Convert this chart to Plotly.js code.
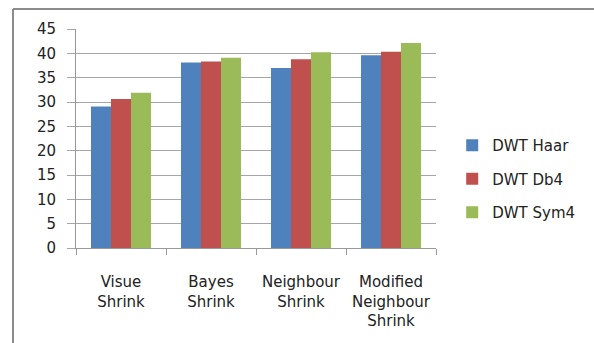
<!DOCTYPE html>
<html>
<head>
<meta charset="utf-8">
<script src="https://cdn.plot.ly/plotly-3.0.1.min.js"></script>
<style>html,body{margin:0;padding:0;background:#fff;}#chart{width:594px;height:343px;}</style>
</head>
<body>
<div id="chart"></div>
<script>
const categories = ["Visue<br>Shrink", "Bayes<br>Shrink", "Neighbour<br>Shrink", "Modified<br>Neighbour<br>Shrink"];
const seriesNames = ["DWT Haar", "DWT Db4", "DWT Sym4"];
const haar = [29.1, 38.1, 37.0, 39.6];
const db4 = [30.6, 38.3, 38.8, 40.3];
const sym4 = [31.9, 39.1, 40.2, 42.1];
const colors = ["#4F81BD", "#C0504D", "#9BBB59"];
const yTicks = [0, 5, 10, 15, 20, 25, 30, 35, 40, 45];

const values = [haar, db4, sym4];
const traces = values.map((v, i) => ({
  type: "bar",
  x: categories,
  y: v,
  name: seriesNames[i],
  legendgroup: "g" + i,
  marker: {color: colors[i]}
}));

const fam = "DejaVu Sans, Noto Sans, sans-serif";
const layout = {
  width: 594, height: 343,
  margin: {l: 76, r: 158, t: 29, b: 95},
  paper_bgcolor: "#fff", plot_bgcolor: "#fff",
  font: {family: fam, size: 14, color: "#222"},
  barmode: "group",
  bargap: 0.333,
  bargroupgap: 0,
  showlegend: true,
  legend: {
    x: 1.045, xanchor: "left", y: 0.315, yanchor: "middle",
    font: {family: fam, size: 15, color: "#222"},
    tracegroupgap: 11,
    traceorder: "grouped"
  },
  xaxis: {
    type: "category",
    tickson: "boundaries",
    ticks: "outside", ticklen: 6, tickcolor: "#999", tickwidth: 1,
    showline: true, linecolor: "#999", linewidth: 1,
    showgrid: false,
    ticklabelstandoff: 20,
    tickfont: {family: fam, size: 15, color: "#222"}
  },
  yaxis: {
    range: [0, 45],
    tickvals: yTicks,
    ticktext: yTicks.map(String),
    ticks: "outside", ticklen: 8, tickcolor: "#a6a6a6", tickwidth: 1,
    showline: true, linecolor: "#999", linewidth: 1,
    showgrid: true, gridcolor: "#a6a6a6", gridwidth: 1,
    zeroline: false,
    ticklabelstandoff: 8,
    tickfont: {family: fam, size: 15, color: "#222"}
  },
  shapes: [
    {type: "line", xref: "paper", yref: "paper", x0: (13 - 76) / 360, x1: (600 - 76) / 360, y0: (343 - 9 - 95) / 219, y1: (343 - 9 - 95) / 219, line: {color: "#8c8c8c", width: 2}},
    {type: "line", xref: "paper", yref: "paper", x0: (13 - 76) / 360, x1: (13 - 76) / 360, y0: (343 - 9 - 95) / 219, y1: -0.5, line: {color: "#8c8c8c", width: 2}}
  ]
};

Plotly.newPlot("chart", traces, layout, {displayModeBar: false, staticPlot: true});
</script>
</body>
</html>
